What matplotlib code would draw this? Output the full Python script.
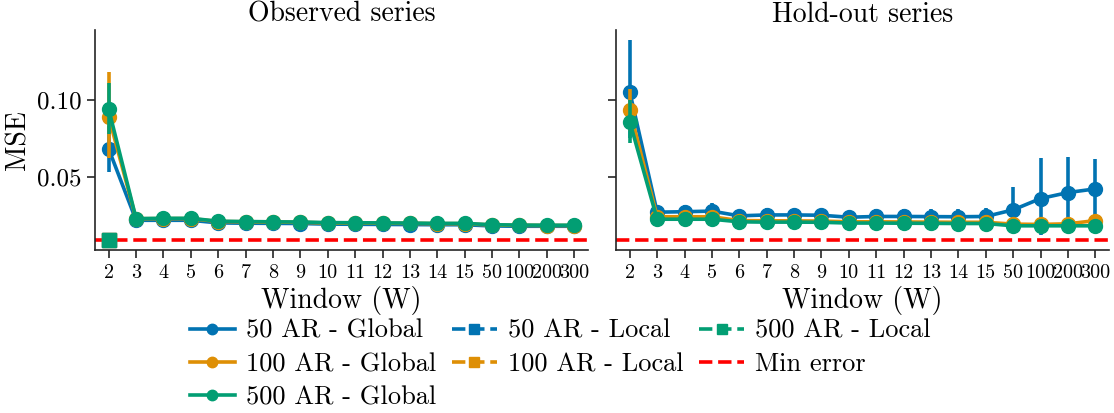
import matplotlib
matplotlib.use("Agg")
import matplotlib.pyplot as plt
from matplotlib.lines import Line2D
import numpy as np

plt.rcParams["font.family"] = ["cmr10", "DejaVu Serif"]
plt.rcParams["mathtext.fontset"] = "cm"
plt.rcParams["axes.formatter.use_mathtext"] = True
plt.rcParams["axes.unicode_minus"] = False

windows = ["2", "3", "4", "5", "6", "7", "8", "9", "10", "11", "12", "13", "14", "15",
           "50", "100", "200", "300"]

# observed series: mean MSE and (lower, upper) CI bounds
obs_50 = [0.0680, 0.0215, 0.0215, 0.0215, 0.0198, 0.0196, 0.0195, 0.0194, 0.0190,
          0.0189, 0.0188, 0.0187, 0.0186, 0.0186, 0.0178, 0.0176, 0.0176, 0.0176]
obs_50_lo = [0.0530, 0.0210, 0.0210, 0.0210, 0.0194, 0.0192, 0.0191, 0.0190, 0.0186,
             0.0185, 0.0184, 0.0183, 0.0182, 0.0182, 0.0174, 0.0172, 0.0172, 0.0172]
obs_50_hi = [0.0830, 0.0220, 0.0220, 0.0220, 0.0202, 0.0200, 0.0199, 0.0198, 0.0194,
             0.0193, 0.0192, 0.0191, 0.0190, 0.0190, 0.0182, 0.0180, 0.0180, 0.0180]

obs_100 = [0.0891, 0.0225, 0.0226, 0.0226, 0.0207, 0.0205, 0.0203, 0.0202, 0.0197,
           0.0197, 0.0196, 0.0195, 0.0193, 0.0193, 0.0184, 0.0182, 0.0181, 0.0181]
obs_100_lo = [0.0620, 0.0220, 0.0221, 0.0221, 0.0203, 0.0201, 0.0199, 0.0198, 0.0193,
              0.0193, 0.0192, 0.0191, 0.0189, 0.0189, 0.0180, 0.0178, 0.0177, 0.0177]
obs_100_hi = [0.1185, 0.0230, 0.0231, 0.0231, 0.0211, 0.0209, 0.0207, 0.0206, 0.0201,
              0.0201, 0.0200, 0.0199, 0.0197, 0.0197, 0.0188, 0.0186, 0.0185, 0.0185]

obs_500 = [0.0940, 0.0226, 0.0228, 0.0228, 0.0209, 0.0207, 0.0205, 0.0204, 0.0200,
           0.0199, 0.0198, 0.0197, 0.0195, 0.0195, 0.0186, 0.0184, 0.0183, 0.0183]
obs_500_lo = [0.0780, 0.0222, 0.0224, 0.0224, 0.0205, 0.0203, 0.0201, 0.0200, 0.0196,
              0.0195, 0.0194, 0.0193, 0.0191, 0.0191, 0.0182, 0.0180, 0.0179, 0.0179]
obs_500_hi = [0.1110, 0.0230, 0.0232, 0.0232, 0.0213, 0.0211, 0.0209, 0.0208, 0.0204,
              0.0203, 0.0202, 0.0201, 0.0199, 0.0199, 0.0190, 0.0188, 0.0187, 0.0187]

# hold-out series
ho_50 = [0.1054, 0.0268, 0.0271, 0.0275, 0.0244, 0.0250, 0.0250, 0.0248, 0.0235,
         0.0240, 0.0240, 0.0239, 0.0238, 0.0240, 0.0283, 0.0357, 0.0396, 0.0420]
ho_50_lo = [0.0750, 0.0255, 0.0240, 0.0240, 0.0225, 0.0220, 0.0220, 0.0220, 0.0210,
            0.0210, 0.0210, 0.0210, 0.0210, 0.0210, 0.0170, 0.0120, 0.0180, 0.0210]
ho_50_hi = [0.1390, 0.0280, 0.0315, 0.0325, 0.0275, 0.0298, 0.0290, 0.0290, 0.0275,
            0.0290, 0.0290, 0.0290, 0.0290, 0.0295, 0.0435, 0.0620, 0.0625, 0.0615]

ho_100 = [0.0935, 0.0238, 0.0238, 0.0238, 0.0213, 0.0212, 0.0211, 0.0210, 0.0205,
          0.0205, 0.0204, 0.0203, 0.0202, 0.0202, 0.0190, 0.0188, 0.0192, 0.0213]
ho_100_lo = [0.0800, 0.0233, 0.0233, 0.0233, 0.0209, 0.0208, 0.0207, 0.0206, 0.0201,
             0.0201, 0.0200, 0.0199, 0.0198, 0.0198, 0.0186, 0.0184, 0.0186, 0.0190]
ho_100_hi = [0.1070, 0.0243, 0.0243, 0.0243, 0.0217, 0.0216, 0.0215, 0.0214, 0.0209,
             0.0209, 0.0208, 0.0207, 0.0206, 0.0206, 0.0194, 0.0192, 0.0200, 0.0250]

ho_500 = [0.0859, 0.0222, 0.0222, 0.0222, 0.0205, 0.0203, 0.0203, 0.0202, 0.0197,
          0.0197, 0.0196, 0.0195, 0.0194, 0.0194, 0.0179, 0.0179, 0.0179, 0.0179]
ho_500_lo = [0.0718, 0.0218, 0.0218, 0.0218, 0.0201, 0.0199, 0.0199, 0.0198, 0.0193,
             0.0193, 0.0192, 0.0191, 0.0190, 0.0190, 0.0175, 0.0175, 0.0175, 0.0175]
ho_500_hi = [0.1000, 0.0226, 0.0226, 0.0226, 0.0209, 0.0207, 0.0207, 0.0206, 0.0201,
             0.0201, 0.0200, 0.0199, 0.0198, 0.0198, 0.0183, 0.0183, 0.0183, 0.0183]

# local models were only evaluated at W=2
local_50 = [0.0089]
local_100 = [0.0089]
local_500 = [0.0089]

min_error = 0.0088

sizes = ["50", "100", "500"]
colors = ["#0173B2", "#DE8F05", "#029E73"]

panels = [
    ("Observed series",
     [(obs_50, obs_50_lo, obs_50_hi), (obs_100, obs_100_lo, obs_100_hi),
      (obs_500, obs_500_lo, obs_500_hi)],
     [local_50, local_100, local_500]),
    ("Hold-out series",
     [(ho_50, ho_50_lo, ho_50_hi), (ho_100, ho_100_lo, ho_100_hi),
      (ho_500, ho_500_lo, ho_500_hi)],
     None),
]

fig, axes = plt.subplots(1, 2, figsize=(11.14, 4.13), dpi=100, sharey=True)
fig.subplots_adjust(left=0.0853, right=0.9955, top=0.927, bottom=0.395, wspace=0.057)

x = np.arange(len(windows))
lw = 2.6
ms = 10

for ax, (title, glob, local) in zip(axes, panels):
    for k, (mean, lo, hi) in enumerate(glob):
        mean = np.array(mean)
        yerr = [mean - np.array(lo), np.array(hi) - mean]
        ax.errorbar(x, mean, yerr=yerr, color=colors[k], lw=lw, elinewidth=lw,
                    marker="o", ms=ms, capsize=0, zorder=3 + k)
    if local is not None:
        for k, vals in enumerate(local):
            ax.plot(x[:len(vals)], vals, color=colors[k], ls="--", lw=lw,
                    marker="s", ms=ms, zorder=3 + k)
    ax.axhline(min_error, color="red", ls="--", lw=2.6, zorder=2)

    ax.set_title(title, fontsize=20)
    ax.set_xlabel("Window (W)", fontsize=20, labelpad=3)
    ax.set_xticks(x)
    ax.set_xticklabels(windows)
    ax.set_xlim(-0.5, len(windows) - 0.5)
    ax.tick_params(axis="both", length=6, width=1.2, color="#262626")
    ax.tick_params(axis="x", labelsize=14.5, pad=4)
    ax.tick_params(axis="y", labelsize=18)
    for side in ["top", "right"]:
        ax.spines[side].set_visible(False)
    for side in ["left", "bottom"]:
        ax.spines[side].set_linewidth(1.2)
        ax.spines[side].set_color("#262626")

axes[0].set_ylim(0.0022, 0.1456)
axes[0].set_yticks([0.05, 0.10])
axes[0].set_yticklabels(["0.05", "0.10"])
axes[0].set_ylabel("MSE", fontsize=20)
axes[1].tick_params(axis="y", labelleft=False)

handles = []
labels = []
for k, s in enumerate(sizes):
    handles.append(Line2D([], [], color=colors[k], lw=lw, marker="o", ms=7.5))
    labels.append(f"{s} AR - Global")
for k, s in enumerate(sizes):
    handles.append(Line2D([], [], color=colors[k], lw=lw, ls="--", marker="s", ms=7.5))
    labels.append(f"{s} AR - Local")
handles.append(Line2D([], [], color="red", lw=lw, ls="--"))
labels.append("Min error")

fig.legend(handles, labels, loc="upper center", bbox_to_anchor=(0.503, 0.253), ncol=3,
           frameon=False, fontsize=19, handlelength=1.7, handletextpad=0.42,
           columnspacing=0.6, labelspacing=0.36, borderaxespad=0)

fig.savefig("out.png", dpi=100)
